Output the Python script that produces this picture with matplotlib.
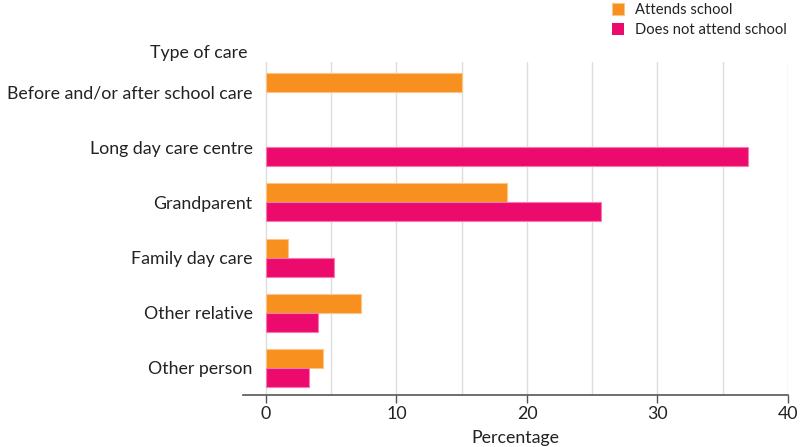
import matplotlib
matplotlib.use("Agg")
import matplotlib.pyplot as plt
import numpy as np

categories = ["Before and/or after school care", "Long day care centre", "Grandparent",
              "Family day care", "Other relative", "Other person"]
attends = [15.0, 0.0, 18.5, 1.7, 7.3, 4.4]
not_attends = [0.0, 36.9, 25.7, 5.2, 4.0, 3.3]
series_names = ["Attends school", "Does not attend school"]
xticks = [0, 10, 20, 30, 40]

plt.rcParams['font.family'] = ['Lato', 'DejaVu Sans']

ORANGE = "#F7901E"
PINK = "#EC0B6D"
TXT = "#222222"
FS = 12.8

fig = plt.figure(figsize=(8.0, 4.47), dpi=100)
ax = fig.add_axes([0.30375, 0.1163, 0.985 - 0.30375, 0.8613 - 0.1163])

y = np.arange(len(categories))
h = 0.344
ax.barh(y - h / 2, attends, height=h, color=ORANGE, edgecolor="#FBC58A",
        linewidth=[0.8 if v > 0 else 0 for v in attends],
        label=series_names[0], zorder=3)
ax.barh(y + h / 2, not_attends, height=h, color=PINK, edgecolor="#F57AAE",
        linewidth=[0.8 if v > 0 else 0 for v in not_attends],
        label=series_names[1], zorder=3)

ax.set_xlim(-1.76, 40)
ax.set_ylim(5.49, -0.543)
ax.set_yticks(y)
ax.set_yticklabels(categories, fontsize=FS, color=TXT)
ax.tick_params(axis='y', length=0, pad=-7)
ax.set_xticks(xticks)
ax.set_xticklabels([str(t) for t in xticks], fontsize=FS, color=TXT)
ax.tick_params(axis='x', length=6, width=1, color="#555555", pad=2)
ax.set_xticks(np.arange(0, 41, 5), minor=True)
ax.tick_params(axis='x', which='minor', length=0)
ax.grid(axis='x', which='both', color="#DDDDDD", linewidth=1, zorder=0)
for s in ["top", "right", "left"]:
    ax.spines[s].set_visible(False)
ax.spines["bottom"].set_color("#555555")
ax.spines["bottom"].set_linewidth(1.2)
ax.set_xlabel("Percentage", fontsize=FS, color=TXT, labelpad=6)

fig.text(247 / 800, 1 - 53 / 447, "Type of care", fontsize=FS, color=TXT,
         ha="right", va="center")

leg = fig.legend(loc="upper left", bbox_to_anchor=(606 / 800, 1 - (-3) / 447), frameon=False,
                 fontsize=10.6, handlelength=0.85, handleheight=0.85, handletextpad=0.7,
                 labelspacing=0.4, borderaxespad=0)
for t in leg.get_texts():
    t.set_color(TXT)

fig.savefig("out.png", dpi=100)
